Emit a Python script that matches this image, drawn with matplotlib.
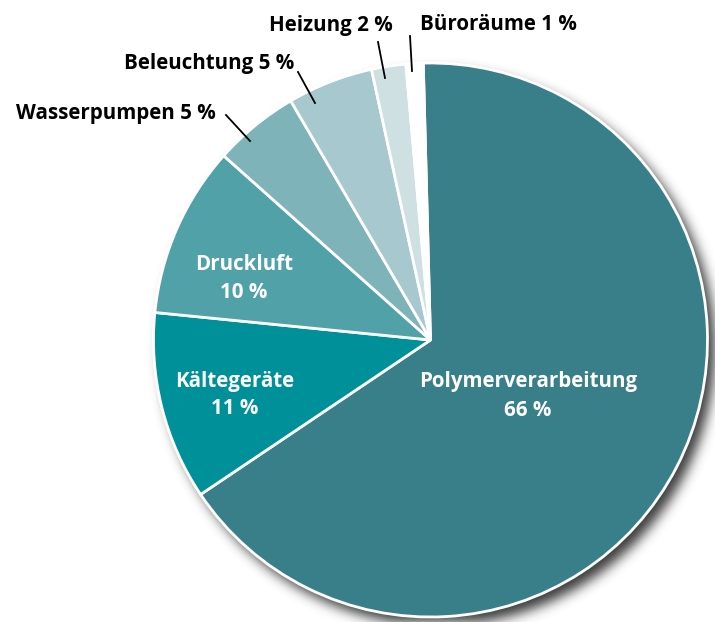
import numpy as np
import matplotlib
matplotlib.use("Agg")
import matplotlib.pyplot as plt

categories = ["Polymerverarbeitung", "Kältegeräte", "Druckluft", "Wasserpumpen",
              "Beleuchtung", "Heizung", "Büroräume"]
values = [66, 11, 10, 5, 5, 2, 1]
colors = ["#387f89", "#00909a", "#50a2a8", "#7fb3ba", "#a7c8ce", "#cfe0e3", "#ffffff"]

W, H = 715, 622
fig = plt.figure(figsize=(W / 100, H / 100), dpi=100)
ax = fig.add_axes([0, 0, 1, 1])

cx, cy, R = 430.5, H - 340, 277

# drop shadow: blurred disk offset to lower right
yy, xx = np.mgrid[0:H, 0:W]
sx, sy = cx + 7, cy - 9
disk = (((xx - sx) ** 2 + (yy - sy) ** 2) <= R ** 2).astype(float)
sig = 6
k = np.arange(-3 * sig, 3 * sig + 1)
g = np.exp(-k ** 2 / (2 * sig ** 2)); g /= g.sum()
blur = np.apply_along_axis(lambda r: np.convolve(r, g, mode="same"), 1, disk)
blur = np.apply_along_axis(lambda c: np.convolve(c, g, mode="same"), 0, blur)
shadow = np.zeros((H, W, 4))
shadow[..., :3] = 0.15
shadow[..., 3] = blur * 0.9
ax.imshow(shadow, extent=(0, W, 0, H), origin="lower", zorder=0, interpolation="bilinear")

wedges, _ = ax.pie(values, colors=colors, startangle=91.5, counterclock=False,
                   center=(cx, cy), radius=R,
                   wedgeprops=dict(edgecolor="white", linewidth=2))
for w in wedges:
    w.set_zorder(2)

ax.set_xlim(0, W)
ax.set_ylim(0, H)
ax.set_aspect("equal")
ax.axis("off")

fam = ["Open Sans", "DejaVu Sans"]
fs = 14.8

# inner labels
inner = {0: (528, 382), 1: (235, 381), 2: (244, 264)}
for i, (x, y) in inner.items():
    ax.text(x, H - y, categories[i], color="white", fontsize=fs, fontweight="bold",
            family=fam, ha="center", va="center", zorder=5)
    ax.text(x, H - y - 28, f"{values[i]} %", color="white", fontsize=fs, fontweight="bold",
            family=fam, ha="center", va="center", zorder=5)

# outer labels with leader lines
outer = {
    3: ((216, 114), "right", ((226, 115), (250, 141))),
    4: ((294, 64), "right", ((298, 72), (315, 103))),
    5: ((393, 25), "right", ((378, 42), (385, 78))),
    6: ((420, 25), "left", ((410, 36), (412, 71))),
}
for i, ((x, y), ha, ((x1, y1), (x2, y2))) in outer.items():
    ax.text(x, H - y, f"{categories[i]} {values[i]} %", color="black", fontsize=fs,
            fontweight="bold", family=fam, ha=ha, va="center", zorder=5)
    ax.plot([x1, x2], [H - y1, H - y2], color="black", lw=1.3, zorder=5)

fig.savefig("out.png", dpi=100)
